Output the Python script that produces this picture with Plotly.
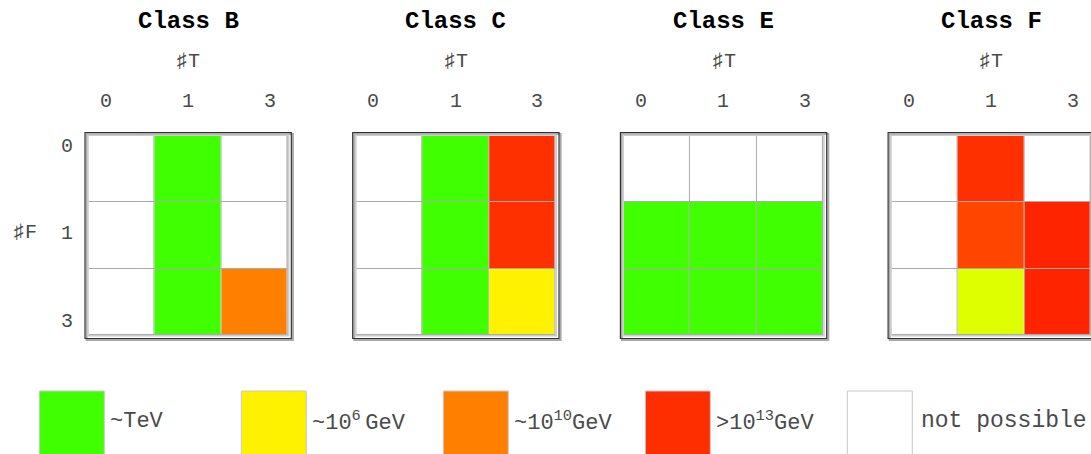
import math
import plotly.graph_objects as go

# ---------------- data ----------------
panel_titles = ["Class B", "Class C", "Class E", "Class F"]
t_labels = ["0", "1", "3"]          # #T (columns)
f_labels = ["0", "1", "3"]          # #F (rows)
NA = float("nan")                   # "not possible"
# log10(scale / GeV) per cell, rows = #F, cols = #T
class_b = [[NA, 3, NA], [NA, 3, NA], [NA, 3, 10]]
class_c = [[NA, 3, 13], [NA, 3, 13], [NA, 3, 6]]
class_e = [[NA, NA, NA], [3, 3, 3], [3, 3, 3]]
class_f = [[NA, 13, NA], [NA, 12.2, 14.5], [NA, 5, 14.5]]
panels = [class_b, class_c, class_e, class_f]

legend_labels = ["~TeV", "~10<sup>6</sup>\u2009GeV", "~10<sup>10</sup>GeV",
                 ">10<sup>13</sup>GeV", "not possible"]
legend_colors = ["#40ff00", "#fff200", "#ff8000", "#ff2e00", "#ffffff"]

# ---------------- style / layout ----------------
W, H = 1091, 454
ZMIN, ZMAX = 0, 16
colorscale = [
    [0.0, "#40ff00"], [3 / 16, "#40ff00"], [5 / 16, "#ddff00"],
    [6 / 16, "#fff200"], [10 / 16, "#ff8000"], [13 / 16, "#ff3000"],
    [1.0, "#ff1800"],
]
FONT = "Liberation Mono, Courier New, monospace"
TXT = "#4a4a4a"

PX0, STEP, PW = 88.5, 267.7, 199.3
CELL_TOP, CELL_BOT = 136, 335


def px(xp):
    return xp / W


def py(yp):
    return 1 - yp / H


def label(text, x, y, size=20, color=TXT, xanchor="center"):
    return dict(text=text, x=px(x), y=py(y), xref="paper", yref="paper",
                xanchor=xanchor, yanchor="middle", showarrow=False,
                font=dict(family=FONT, size=size, color=color))


fig = go.Figure()
layout_axes = {}
shapes = []
annotations = []

for i, (title, z) in enumerate(zip(panel_titles, panels)):
    n = i + 1
    xa = "x" if n == 1 else f"x{n}"
    ya = "y" if n == 1 else f"y{n}"
    x0 = PX0 + STEP * i
    base = [[0] * 3 for _ in range(3)]
    fig.add_trace(go.Heatmap(
        z=base, x=t_labels, y=f_labels, xaxis=xa, yaxis=ya,
        colorscale=[[0, "white"], [1, "white"]], showscale=False,
        xgap=1, ygap=1, hoverinfo="skip"))
    fig.add_trace(go.Heatmap(
        z=z, x=t_labels, y=f_labels, xaxis=xa, yaxis=ya,
        colorscale=colorscale, zmin=ZMIN, zmax=ZMAX, showscale=False,
        xgap=1, ygap=1))
    axn = "" if n == 1 else str(n)
    layout_axes[f"xaxis{axn}"] = dict(
        domain=[px(x0), min(1.0, px(x0 + PW))], type="category",
        range=[-0.5, 2.5], showticklabels=False, showgrid=False,
        zeroline=False, showline=False, fixedrange=True, anchor=ya)
    layout_axes[f"yaxis{axn}"] = dict(
        domain=[py(CELL_BOT), py(CELL_TOP)], type="category",
        range=[2.5, -0.5], showticklabels=False, showgrid=False,
        zeroline=False, showline=False, fixedrange=True, anchor=xa)

    dx = f"{xa} domain"
    dy = f"{ya} domain"
    o = 3.5 / PW
    # shadow, outer dark frame, inner light frame
    shapes.append(dict(type="rect", xref=dx, yref=dy, x0=-o + 0.008, x1=1 + o + 0.008,
                       y0=-o - 0.008, y1=1 + o - 0.008,
                       line=dict(color="#a8a8a8", width=2), layer="above"))
    shapes.append(dict(type="rect", xref=dx, yref=dy, x0=-o, x1=1 + o,
                       y0=-o, y1=1 + o,
                       line=dict(color="#333333", width=1.2), fillcolor="rgba(0,0,0,0)",
                       layer="above"))
    shapes.append(dict(type="rect", xref=dx, yref=dy, x0=-0.004, x1=1.004,
                       y0=-0.004, y1=1.004,
                       line=dict(color="#cccccc", width=1.5), layer="above"))

    cx = x0 + PW / 2
    annotations.append(label(f"<b>{title}</b>", cx, 21, size=24, color="black"))
    annotations.append(label("♯T", cx, 61.5))
    for lab, off in zip(t_labels, [17, 99.5, 181]):
        annotations.append(label(lab, x0 + off, 101))

# left axis labels
for lab, yy in zip(f_labels, [146.5, 233, 321.5]):
    annotations.append(label(lab, 66.5, yy))
annotations.append(label("♯F", 24.5, 232))

# legend swatches + labels
for i, (lab, col) in enumerate(zip(legend_labels, legend_colors)):
    bx = 39.3 + 202 * i
    border = "#c4ccc4" if col == "#ffffff" else "#c8c8c8"
    shapes.append(dict(type="rect", xref="paper", yref="paper",
                       x0=px(bx), x1=px(bx + 65), y0=py(470), y1=py(391),
                       fillcolor=col, line=dict(color=border, width=1)))
    pad = 7 if i == 4 else 4
    annotations.append(label(lab, bx + 65 + pad, 421,
                             size=22 if i < 4 else 23, xanchor="left"))

fig.update_layout(
    width=W, height=H, margin=dict(l=0, r=0, t=0, b=0),
    paper_bgcolor="white", plot_bgcolor="#ababab",
    showlegend=False, shapes=shapes, annotations=annotations,
    **layout_axes)

fig.write_html(
    "out.html",
    config={"displayModeBar": False, "staticPlot": False},
    post_script="document.body.style.margin='0';document.body.style.padding='0';"
                "document.body.style.overflow='hidden';")
